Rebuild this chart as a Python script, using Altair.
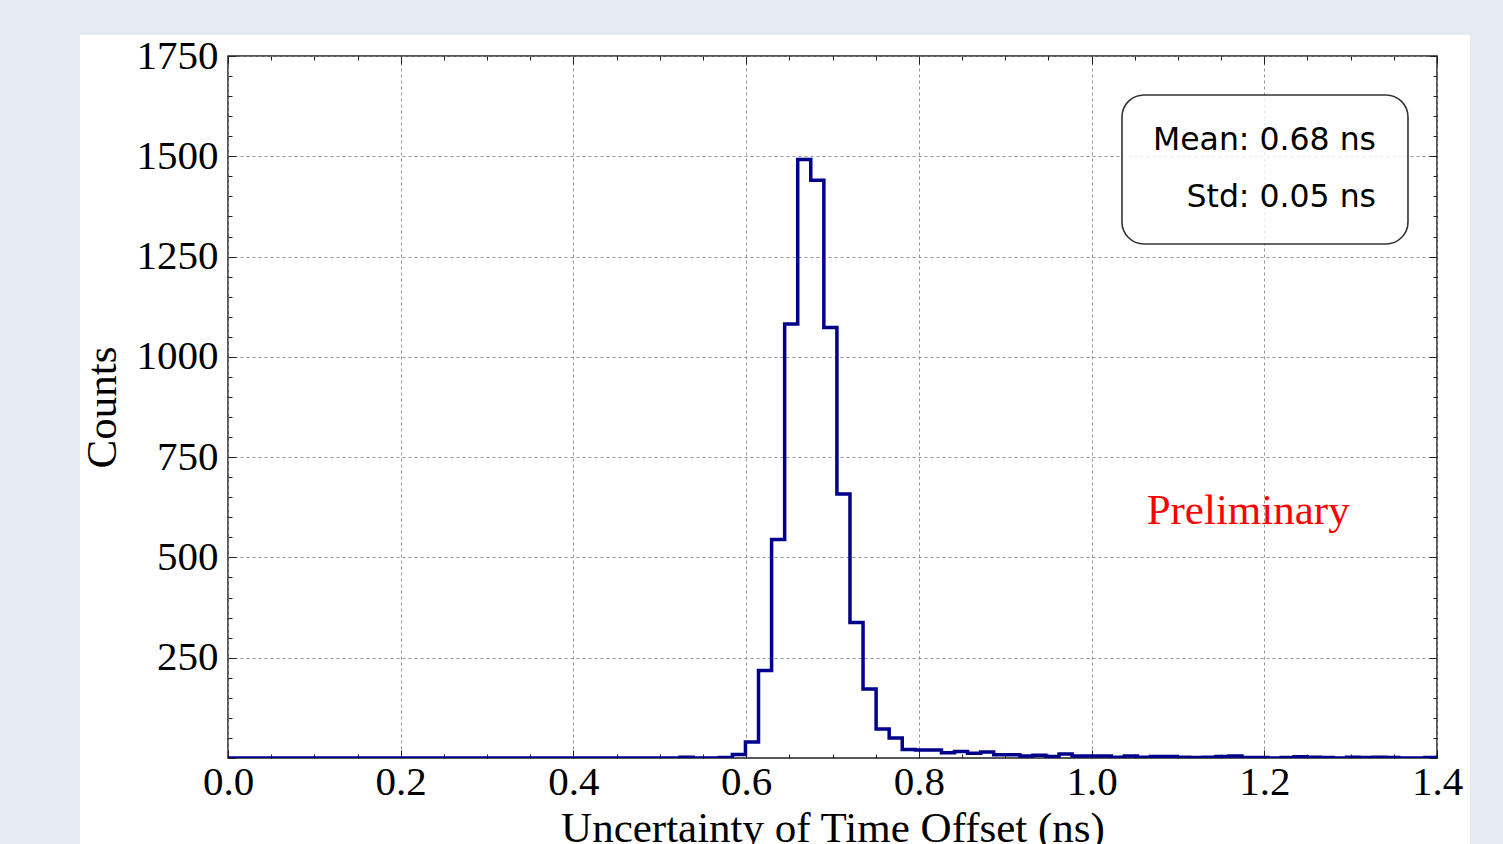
import altair as alt
import pandas as pd

# ---------------- data ----------------
bin_start = -0.0060
bin_width = 0.01513
counts = [
    0, 0, 0, 0, 0, 0, 0, 0, 0, 0,
    0, 0, 0, 0, 0, 0, 0, 0, 0, 0,
    0, 0, 0, 0, 0, 0, 0, 0, 0, 0,
    0, 0, 0, 0, 0, 2, 0, 0, 1, 9,
    40, 218, 545, 1082, 1492, 1440, 1073, 658, 338, 172,
    72, 50, 21, 20, 20, 13, 16, 12, 15, 8,
    8, 5, 7, 4, 10, 5, 5, 5, 2, 5,
    2, 4, 4, 2, 1, 2, 4, 5, 1, 1,
    0, 1, 3, 2, 1, 0, 2, 1, 2, 1,
    0, 0, 1, 0,
]

x_major = [0.0, 0.2, 0.4, 0.6, 0.8, 1.0, 1.2, 1.4]
x_all_ticks = [round(i * 0.05, 2) for i in range(29)]
y_major = [250, 500, 750, 1000, 1250, 1500, 1750]
y_all_ticks = [i * 50 for i in range(36)]

stats_text = ["Mean: 0.68 ns", "Std: 0.05 ns"]
stats_x = [1.3294, 1.3294]
stats_y = [1515.7, 1374.3]

box_x = [1.0352]
box_x2 = [1.3664]
box_y = [1652.8]
box_y2 = [1281.4]

prelim_text = ["Preliminary"]
prelim_x = [1.1813]
prelim_y = [583]

# ---------------- layout ----------------
W, H = 1209, 702
PAD_L, PAD_T, PAD_R, PAD_B = 228, 56, 66, 86
OUTER = "#e5eaf3"
SERIF = "Liberation Serif"

edges = [bin_start + i * bin_width for i in range(len(counts) + 1)]
hist = pd.DataFrame({"edge": edges, "count": counts + [0]})

xs = alt.Scale(domain=[0, 1.4], nice=False, zero=False)
ys = alt.Scale(domain=[0, 1750], nice=False, zero=False)

main_x_axis = alt.Axis(
    orient="bottom", values=x_major, format=".1f", grid=True,
    gridDash=[3, 3], gridColor="#8a8a8a", gridWidth=0.9,
    ticks=False, tickSize=0, domain=False,
    labelFont=SERIF, labelFontSize=41, labelColor="black", labelPadding=4,
    labelFlush=False, labelOverlap=False,
    title="Uncertainty of Time Offset (ns)", titleFont=SERIF, titleFontSize=43,
    titleFontWeight="normal", titleColor="black", titlePadding=5,
)
main_y_axis = alt.Axis(
    orient="left", values=y_major, format="d", grid=True,
    gridDash=[3, 3], gridColor="#8a8a8a", gridWidth=0.9,
    ticks=False, tickSize=0, domain=False,
    labelFont=SERIF, labelFontSize=41, labelColor="black", labelPadding=10,
    labelFlush=False, labelOverlap=False,
    title="Counts", titleFont=SERIF, titleFontSize=43,
    titleFontWeight="normal", titleColor="black", titlePadding=12,
)

xtick_size = {"condition": {"test": "abs(datum.value*5 - round(datum.value*5)) < 0.001", "value": 8}, "value": 4}
ytick_size = {"condition": {"test": "datum.value % 250 == 0", "value": 8}, "value": 4}


def tick_axis(orient, values, size, offset):
    return alt.Axis(orient=orient, offset=offset, values=values, labels=False,
                    domain=False, grid=False, ticks=True, tickColor="#222",
                    tickWidth=1, tickSize=size, title="")


# outer blue-grey strips around the white figure (pixel space, decoration)
strips = pd.DataFrame({
    "x0": [0 - PAD_L, 1470 - PAD_L, 0 - PAD_L],
    "x1": [80 - PAD_L, 1503 - PAD_L, 1503 - PAD_L],
    "y0": [0 - PAD_T, 0 - PAD_T, 0 - PAD_T],
    "y1": [844 - PAD_T, 844 - PAD_T, 35 - PAD_T],
})
strip_layer = alt.Chart(strips).mark_rect(color=OUTER).encode(
    x=alt.X("x0:Q", scale=None, axis=None),
    x2="x1:Q",
    y=alt.Y("y0:Q", scale=None, axis=None),
    y2="y1:Q",
)

line_layer = alt.Chart(hist).mark_line(
    interpolate="step-after", color="#00008b", strokeWidth=3.5, clip=True
).encode(
    x=alt.X("edge:Q", scale=xs, axis=main_x_axis),
    y=alt.Y("count:Q", scale=ys, axis=main_y_axis),
)

box_df = pd.DataFrame({"x": box_x, "x2": box_x2, "y": box_y, "y2": box_y2})
box_layer = alt.Chart(box_df).mark_rect(
    fill="white", fillOpacity=0.8, stroke="#333333", strokeWidth=1.6, cornerRadius=22
).encode(
    x=alt.X("x:Q", scale=xs, axis=tick_axis("top", x_all_ticks, xtick_size, -H)),
    x2="x2:Q",
    y=alt.Y("y:Q", scale=ys, axis=tick_axis("right", y_all_ticks, ytick_size, -W)),
    y2="y2:Q",
)

stats_df = pd.DataFrame({"x": stats_x, "y": stats_y, "t": stats_text})
stats_layer = alt.Chart(stats_df).mark_text(
    align="right", baseline="alphabetic", font="DejaVu Sans", fontSize=31.5, color="black"
).encode(
    x=alt.X("x:Q", scale=xs, axis=tick_axis("bottom", x_all_ticks, xtick_size, -H)),
    y=alt.Y("y:Q", scale=ys, axis=tick_axis("left", y_all_ticks, ytick_size, -W)),
    text="t:N",
)

prelim_df = pd.DataFrame({"x": prelim_x, "y": prelim_y, "t": prelim_text})
prelim_layer = alt.Chart(prelim_df).mark_text(
    align="center", baseline="alphabetic", font=SERIF, fontSize=43, color="red"
).encode(
    x=alt.X("x:Q", scale=xs, axis=None),
    y=alt.Y("y:Q", scale=ys, axis=None),
    text="t:N",
)

chart = alt.layer(
    line_layer, box_layer, stats_layer, prelim_layer, strip_layer
).resolve_axis(
    x="independent", y="independent"
).properties(
    width=W, height=H,
    padding={"left": PAD_L, "top": PAD_T, "right": PAD_R, "bottom": PAD_B},
    autosize=alt.AutoSizeParams(type="none"),
    background="white",
).configure_view(
    stroke="#222222", strokeWidth=1.5
)

chart.save("out.html", embed_options={"renderer": "svg", "actions": False})
